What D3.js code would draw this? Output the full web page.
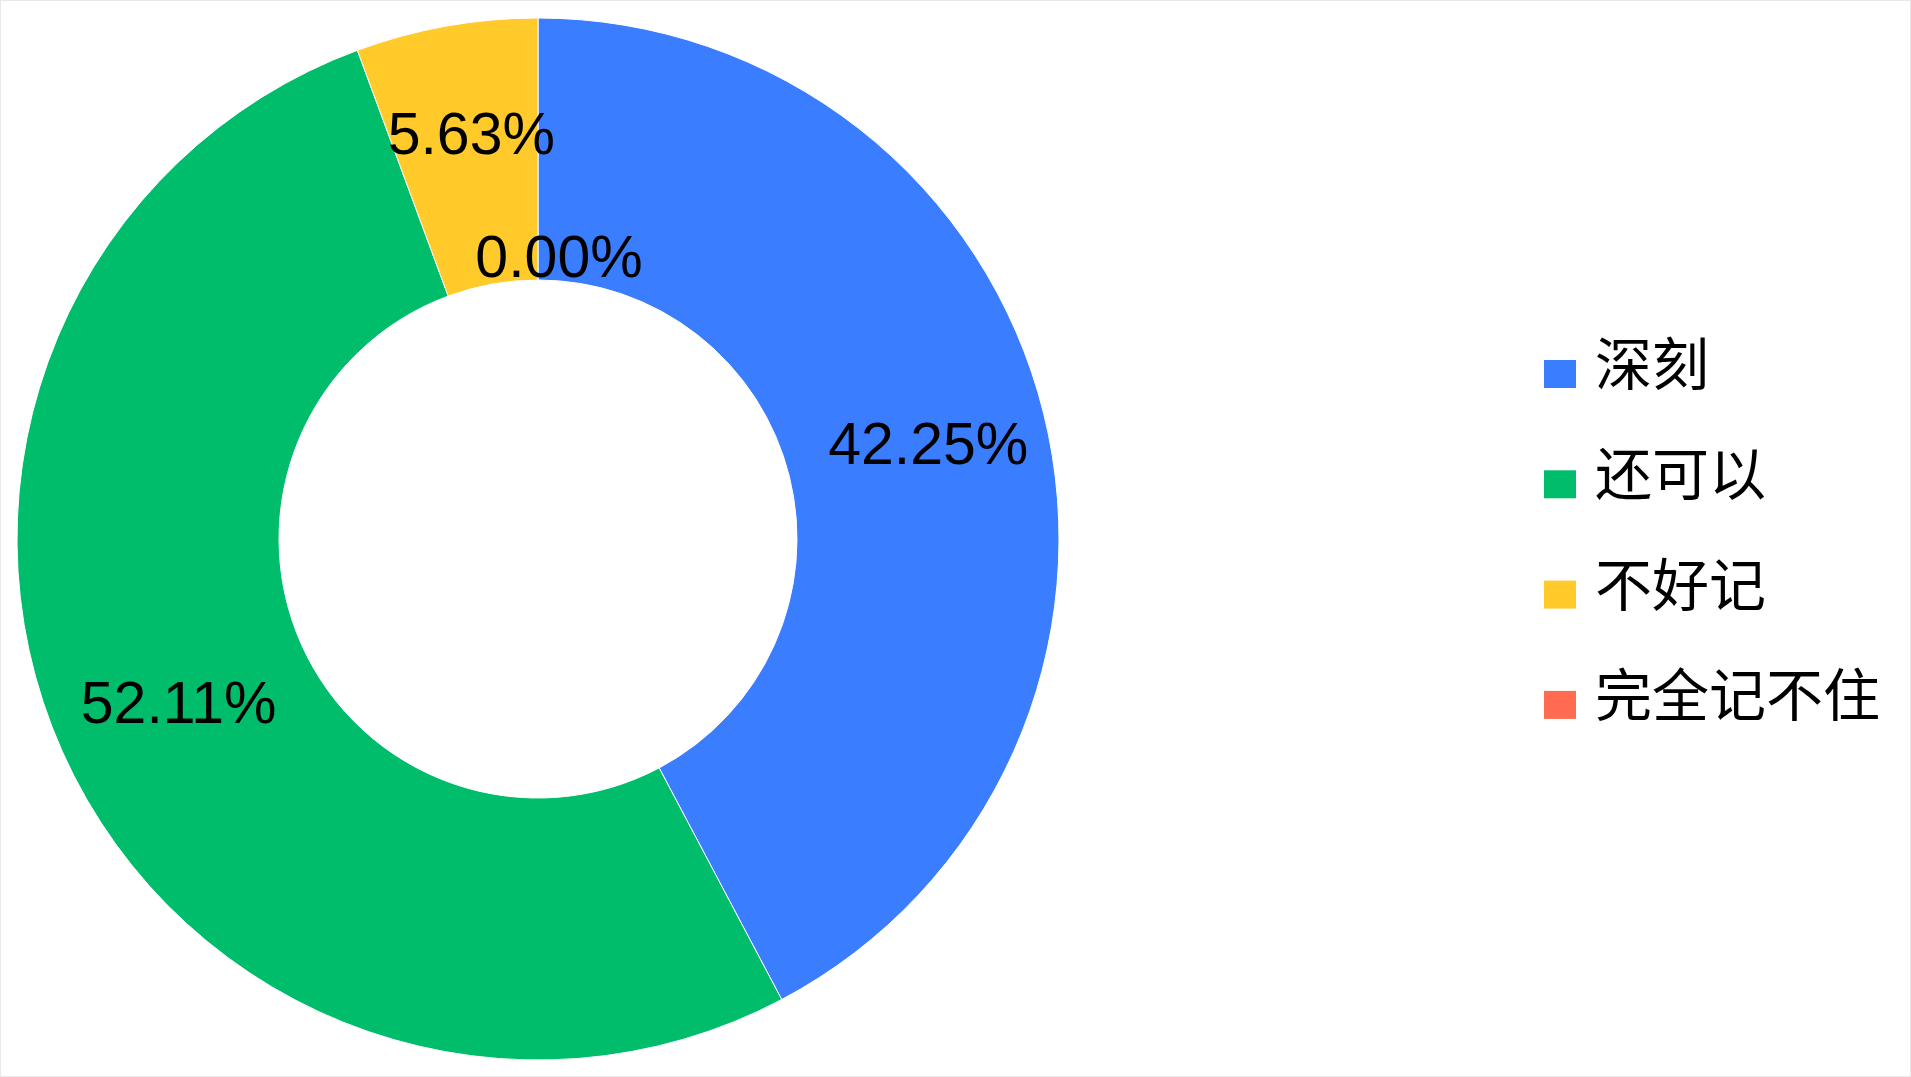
<!DOCTYPE html>
<html>
<head>
<meta charset="utf-8">
<script src="https://cdn.jsdelivr.net/npm/d3@7/dist/d3.min.js"></script>
<style>
  html, body { margin: 0; padding: 0; background: #fff; }
  svg { display: block; }
</style>
</head>
<body>
<svg id="chart" width="1911" height="1077"></svg>
<script>
// ---- data ----
const categories = ["深刻", "还可以", "不好记", "完全记不住"];
const counts = [30, 37, 4, 0];
const colors = ["#3A7DFE", "#00BD6B", "#FFCA2A", "#FF6B50"];

// ---- layout ----
const W = 1911, H = 1077;
const cx = 538, cy = 539;
const outerR = 521, innerR = 259;
const labelR = 398;

const svg = d3.select("#chart");
svg.append("rect").attr("x", 0.5).attr("y", 0.5).attr("width", W - 1).attr("height", H - 1)
  .attr("fill", "#fff").attr("stroke", "#e8e8e8").attr("stroke-width", 1);

const total = d3.sum(counts);
const pie = d3.pie().sort(null).value(d => d.v).startAngle(0).endAngle(2 * Math.PI);
const data = categories.map((c, i) => ({ c, v: counts[i], color: colors[i] }));
const arcs = pie(data);

const arc = d3.arc().innerRadius(innerR).outerRadius(outerR);
const g = svg.append("g").attr("transform", `translate(${cx},${cy})`);

g.selectAll("path.slice").data(arcs).enter().append("path")
  .attr("class", "slice")
  .attr("d", arc)
  .attr("fill", d => d.data.color)
  .attr("stroke", d => d.value > 0 ? "#fff" : "none")
  .attr("stroke-width", 1);

// labels
const fmt = v => (v / total * 100).toFixed(2) + "%";
const fontSize = 59;
const labels = arcs.map(d => {
  const a = (d.startAngle + d.endAngle) / 2;
  return { d, a, r: labelR, dx: 4, text: fmt(d.value) };
});
// simple overlap resolution for neighbouring small slices
for (let i = 1; i < labels.length; i++) {
  const p = labels[i - 1], q = labels[i];
  const px = p.r * Math.sin(p.a), py = -p.r * Math.cos(p.a);
  const qx = q.r * Math.sin(q.a), qy = -q.r * Math.cos(q.a);
  if (Math.abs(px - qx) < 160 && Math.abs(py - qy) < fontSize) {
    const small = p.d.value <= q.d.value ? p : q;
    const big = small === p ? q : p;
    small.r = innerR + 24;
    small.dx = 21;
    big.r = labelR + 15;
    big.dx = 6;
  }
}

g.selectAll("text.lbl").data(labels).enter().append("text")
  .attr("class", "lbl")
  .attr("x", l => l.r * Math.sin(l.a) + l.dx)
  .attr("y", l => -l.r * Math.cos(l.a) + fontSize * 0.358)
  .attr("text-anchor", "middle")
  .attr("font-family", "'Liberation Sans', Arial, sans-serif")
  .attr("font-size", fontSize)
  .attr("fill", "#000")
  .text(l => l.text);

// legend
const legX = 1544, legY0 = 360, legStep = 110.3;
const sqW = 32, sqH = 28;
const leg = svg.append("g");
const items = leg.selectAll("g.item").data(data).enter().append("g")
  .attr("class", "item")
  .attr("transform", (d, i) => `translate(${legX},${legY0 + i * legStep})`);
items.append("rect")
  .attr("width", sqW).attr("height", sqH)
  .attr("fill", d => d.color);
items.append("text")
  .attr("x", 51)
  .attr("y", sqH / 2 - 14)
  .attr("dominant-baseline", "central")
  .attr("font-family", "'Noto Sans CJK SC', sans-serif")
  .attr("font-size", 57)
  .attr("fill", "#000")
  .text(d => d.c);
</script>
</body>
</html>
